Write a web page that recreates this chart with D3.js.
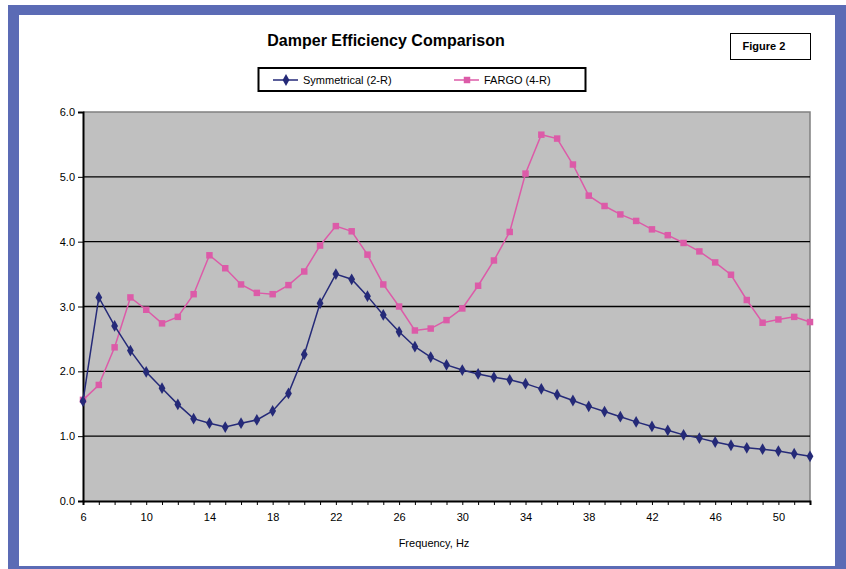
<!DOCTYPE html>
<html>
<head>
<meta charset="utf-8">
<script src="https://cdn.jsdelivr.net/npm/d3@7"></script>
<style>
  body { margin: 0; background: #fff; }
  text { font-family: "Liberation Sans", Arial, sans-serif; }
</style>
</head>
<body>
<svg id="chart"></svg>
<script>
// frequency, Hz
const freq = d3.range(6, 53);
// Symmetrical (2-R)
const symmetrical = [1.54, 3.14, 2.70, 2.32, 1.99, 1.74, 1.49, 1.27, 1.20, 1.14,
  1.20, 1.25, 1.39, 1.66, 2.26, 3.05, 3.50, 3.42, 3.16, 2.87,
  2.61, 2.38, 2.22, 2.10, 2.02, 1.96, 1.91, 1.87, 1.81, 1.73,
  1.64, 1.55, 1.46, 1.38, 1.30, 1.22, 1.15, 1.09, 1.02, 0.97,
  0.91, 0.86, 0.82, 0.80, 0.77, 0.73, 0.69];
// FARGO (4-R)
const fargo = [1.56, 1.79, 2.37, 3.14, 2.95, 2.74, 2.84, 3.19, 3.79, 3.59,
  3.34, 3.21, 3.19, 3.33, 3.54, 3.94, 4.24, 4.16, 3.80, 3.34,
  3.00, 2.63, 2.66, 2.79, 2.97, 3.32, 3.71, 4.15, 5.05, 5.65,
  5.59, 5.19, 4.71, 4.55, 4.42, 4.32, 4.19, 4.10, 3.98, 3.85,
  3.68, 3.49, 3.10, 2.75, 2.80, 2.84, 2.76];
const xLabels = [6, 10, 14, 18, 22, 26, 30, 34, 38, 42, 46, 50];
const yTicks = [0, 1, 2, 3, 4, 5, 6];

const width = 846, height = 569;
const plotLeft = 83, plotRight = 810, plotTop = 112, plotBottom = 501;

const svg = d3.select("#chart")
  .attr("width", width)
  .attr("height", height);

// blue frame
svg.append("rect").attr("x", 8).attr("y", 5).attr("width", 900).attr("height", 600)
  .attr("fill", "#5b6bb5");
svg.append("rect").attr("x", 19).attr("y", 15).attr("width", 816).attr("height", 551)
  .attr("fill", "#fff");

// title
svg.append("text")
  .attr("x", 386).attr("y", 46)
  .attr("text-anchor", "middle")
  .style("font-size", "16px").style("font-weight", "bold")
  .text("Damper Efficiency Comparison");

// figure 2 box
svg.append("rect").attr("x", 730.5).attr("y", 33.5).attr("width", 80).attr("height", 26)
  .attr("fill", "#fff").attr("stroke", "#000").attr("stroke-width", 1);
svg.append("text")
  .attr("x", 764).attr("y", 50)
  .attr("text-anchor", "middle")
  .style("font-size", "11px").style("font-weight", "bold")
  .text("Figure 2");

let x = d3.scaleLinear().domain([6, 52]).range([plotLeft, plotRight]);
let y = d3.scaleLinear().domain([0, 6]).range([plotBottom, plotTop]);

// plot area
svg.append("rect")
  .attr("x", plotLeft).attr("y", plotTop)
  .attr("width", plotRight - plotLeft).attr("height", plotBottom - plotTop)
  .attr("fill", "#c0c0c0");
svg.append("path")
  .attr("d", `M${plotLeft},${plotTop}H${plotRight}V${plotBottom}`)
  .attr("fill", "none").attr("stroke", "#808080").attr("stroke-width", 1.5);

// gridlines
svg.append("g")
  .selectAll("line")
  .data(yTicks.filter(d => d > 0 && d < 6))
  .enter()
  .append("line")
  .attr("x1", plotLeft).attr("x2", plotRight)
  .attr("y1", d => y(d)).attr("y2", d => y(d))
  .attr("stroke", "#000").attr("stroke-width", 1.3);

// axes
let axisX = d3.axisBottom(x)
  .tickValues(freq)
  .tickSize(4)
  .tickFormat(d => xLabels.includes(d) ? d : "");
let gx = svg.append("g")
  .attr("transform", `translate(0, ${plotBottom})`)
  .call(axisX);
gx.select(".domain").attr("stroke", "#000").attr("stroke-width", 2);
gx.selectAll("text").style("font-size", "11px").attr("dy", "1.2em")
  .style("font-family", "'Liberation Sans', Arial, sans-serif");

let axisY = d3.axisLeft(y)
  .tickValues(yTicks)
  .tickSize(5)
  .tickFormat(d3.format(".1f"));
let gy = svg.append("g")
  .attr("transform", `translate(${plotLeft}, 0)`)
  .call(axisY);
gy.select(".domain").attr("stroke", "#000").attr("stroke-width", 2);
gy.selectAll("text").style("font-size", "11px").attr("x", -8)
  .style("font-family", "'Liberation Sans', Arial, sans-serif");

svg.append("text")
  .attr("x", 434).attr("y", 547)
  .attr("text-anchor", "middle")
  .style("font-size", "11px")
  .text("Frequency, Hz");

// series
const navy = "#252a78", pink = "#dc5ba8";
const diamond = d3.symbol().type(d3.symbolDiamond).size(40);
const square = d3.symbol().type(d3.symbolSquare).size(42);

function drawSeries(values, color, shape) {
  let line = d3.line()
    .x((d, i) => x(freq[i]))
    .y(d => y(d));
  svg.append("path")
    .datum(values)
    .attr("d", line)
    .attr("fill", "none")
    .attr("stroke", color)
    .attr("stroke-width", 1.5);
  svg.append("g")
    .selectAll("path")
    .data(values)
    .enter()
    .append("path")
    .attr("d", shape)
    .attr("transform", (d, i) => `translate(${x(freq[i])}, ${y(d)})`)
    .attr("fill", color);
}
drawSeries(fargo, pink, square);
drawSeries(symmetrical, navy, diamond);

// legend
svg.append("rect").attr("x", 258.5).attr("y", 68).attr("width", 327).attr("height", 23)
  .attr("fill", "#fff").attr("stroke", "#000").attr("stroke-width", 2);
const legend = [
  { name: "Symmetrical (2-R)", color: navy, shape: diamond, x0: 273 },
  { name: "FARGO (4-R)", color: pink, shape: square, x0: 454 }
];
legend.forEach(l => {
  svg.append("line")
    .attr("x1", l.x0).attr("x2", l.x0 + 25)
    .attr("y1", 80).attr("y2", 80)
    .attr("stroke", l.color).attr("stroke-width", 1.5);
  svg.append("path")
    .attr("d", l.shape)
    .attr("transform", `translate(${l.x0 + 13}, 80)`)
    .attr("fill", l.color);
  svg.append("text")
    .attr("x", l.x0 + 30).attr("y", 84)
    .style("font-size", "11px")
    .text(l.name);
});
</script>
</body>
</html>
